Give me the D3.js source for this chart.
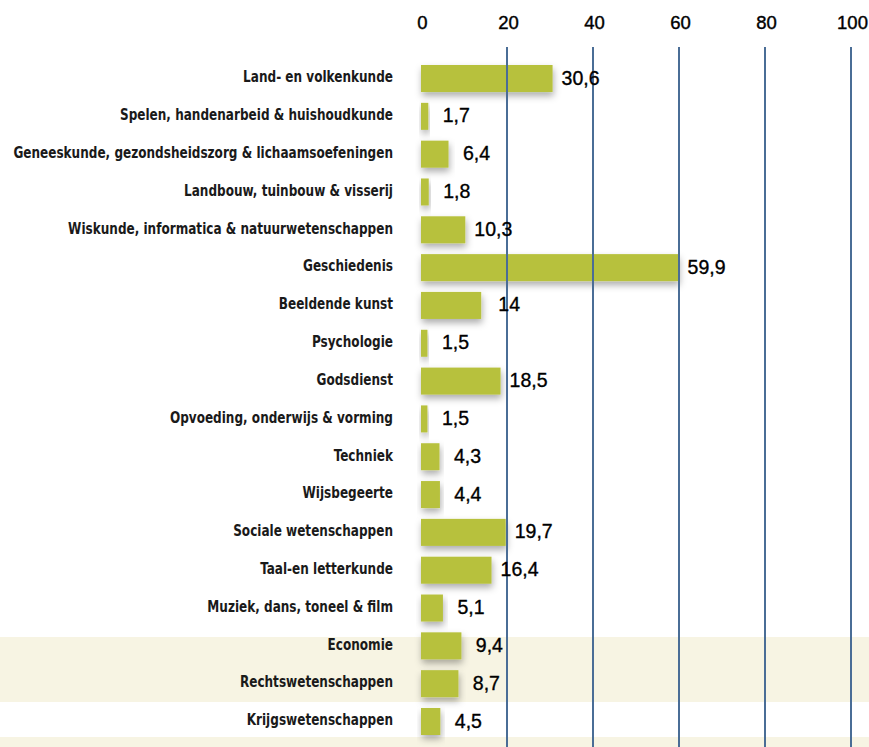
<!DOCTYPE html>
<html>
<head>
<meta charset="utf-8">
<script src="https://cdn.jsdelivr.net/npm/d3@7/dist/d3.min.js"></script>
<style>
  html, body { margin: 0; padding: 0; background: #ffffff; }
  svg { display: block; }
</style>
</head>
<body>
<script>
// Categories (top to bottom) and their values
const categories = [
  "Land- en volkenkunde",
  "Spelen, handenarbeid & huishoudkunde",
  "Geneeskunde, gezondsheidszorg & lichaamsoefeningen",
  "Landbouw, tuinbouw & visserij",
  "Wiskunde, informatica & natuurwetenschappen",
  "Geschiedenis",
  "Beeldende kunst",
  "Psychologie",
  "Godsdienst",
  "Opvoeding, onderwijs & vorming",
  "Techniek",
  "Wijsbegeerte",
  "Sociale wetenschappen",
  "Taal-en letterkunde",
  "Muziek, dans, toneel & film",
  "Economie",
  "Rechtswetenschappen",
  "Krijgswetenschappen"
];
const values = [30.6, 1.7, 6.4, 1.8, 10.3, 59.9, 14, 1.5, 18.5, 1.5, 4.3, 4.4, 19.7, 16.4, 5.1, 9.4, 8.7, 4.5];
const valueLabels = ["30,6", "1,7", "6,4", "1,8", "10,3", "59,9", "14", "1,5", "18,5", "1,5", "4,3", "4,4", "19,7", "16,4", "5,1", "9,4", "8,7", "4,5"];
const tickValues = [0, 20, 40, 60, 80, 100];
const gridValues = [20, 40, 60, 80, 100];

const W = 869, H = 747;
const svg = d3.select("body").append("svg").attr("width", W).attr("height", H);

const defs = svg.append("defs");
const shadow = defs.append("filter").attr("id", "barShadow")
  .attr("x", "-20%").attr("y", "-40%").attr("width", "140%").attr("height", "200%");
shadow.append("feDropShadow")
  .attr("dx", 1).attr("dy", 4).attr("stdDeviation", 3.5)
  .attr("flood-color", "#000").attr("flood-opacity", 0.32);

// Background stripes of the page layout
const stripes = [[637, 702], [737, 747]];
svg.selectAll("rect.stripe").data(stripes).join("rect")
  .attr("class", "stripe")
  .attr("x", 0).attr("width", W)
  .attr("y", d => d[0]).attr("height", d => d[1] - d[0])
  .attr("fill", "#f7f4e3");

const x = d3.scaleLinear().domain([0, 100]).range([421, 851]);
const y = d3.scaleBand().domain(categories).range([59.6, 740.4])
  .paddingInner(0.286).paddingOuter(0.143);

// Top axis labels
const axis = d3.axisTop(x).tickValues(tickValues).tickSize(0).tickPadding(0);
const gAxis = svg.append("g").attr("transform", "translate(1,29)").call(axis);
gAxis.select(".domain").remove();
gAxis.selectAll("text")
  .attr("font-family", "'Liberation Sans', Arial, sans-serif")
  .attr("font-size", 18.5).attr("fill", "#000")
  .attr("stroke", "#000").attr("stroke-width", 0.4);

// Bars
svg.selectAll("rect.bar").data(values).join("rect")
  .attr("class", "bar")
  .attr("x", x(0))
  .attr("y", (d, i) => y(categories[i]))
  .attr("width", d => x(d) - x(0))
  .attr("height", y.bandwidth())
  .attr("fill", "#b7c13c")
  .attr("filter", "url(#barShadow)");

// Vertical grid lines, drawn over the bars
svg.selectAll("line.grid").data(gridValues).join("line")
  .attr("class", "grid")
  .attr("x1", d => x(d)).attr("x2", d => x(d))
  .attr("y1", 47).attr("y2", H)
  .attr("stroke", "#4a6d96").attr("stroke-width", 2);

// Value labels
svg.selectAll("text.val").data(values).join("text")
  .attr("class", "val")
  .attr("x", d => x(d) + 28)
  .attr("y", (d, i) => y(categories[i]) + y.bandwidth() / 2 - 1)
  .attr("dy", "0.36em")
  .attr("text-anchor", "middle")
  .attr("font-family", "'Liberation Sans', Arial, sans-serif")
  .attr("font-size", 19.5).attr("fill", "#000")
  .attr("stroke", "#000").attr("stroke-width", 0.35)
  .text((d, i) => valueLabels[i]);

// Category labels (condensed)
const catG = svg.selectAll("g.cat").data(categories).join("g")
  .attr("class", "cat")
  .attr("transform", d => `translate(393,${y(d) + y.bandwidth() / 2 - 2})`);
const catText = catG.append("text")
  .attr("text-anchor", "end")
  .attr("dy", "0.36em")
  .attr("font-family", "'Liberation Sans Narrow', 'DejaVu Sans Condensed', 'DejaVu Sans', sans-serif")
  .attr("font-stretch", "condensed")
  .attr("font-weight", "bold")
  .attr("font-size", 16)
  .attr("fill", "#1a1a1a")
  .text(d => d);

// Horizontally compress so the longest label spans the label column
const longest = d3.max(catText.nodes(), n => n.getComputedTextLength());
const k = 380 / longest;
catText.attr("transform", `scale(${k},1)`);
</script>
</body>
</html>
